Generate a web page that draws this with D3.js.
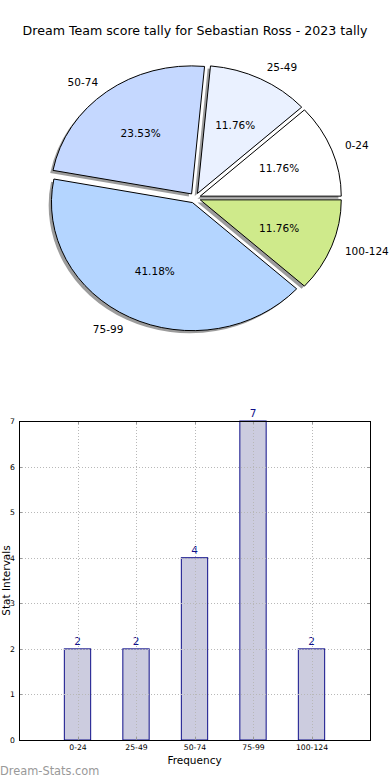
<!DOCTYPE html>
<html><head><meta charset="utf-8">
<script src="https://cdn.jsdelivr.net/npm/d3@7"></script>
<style>body{margin:0;background:#fff} text{font-family:"DejaVu Sans",sans-serif}</style>
</head><body><svg id="c" width="390" height="780"></svg>
<script>
const title = "Dream Team score tally for Sebastian Ross - 2023 tally";
const categories = ["0-24","25-49","50-74","75-99","100-124"];
const counts = [2,2,4,7,2];
const pieColors = ["#ffffff","#eaf1ff","#c5d8ff","#b4d5ff","#cfea8b"];
const yTicks = [0,1,2,3,4,5,6,7];
const xLabel = "Frequency";
const yLabel = "Stat Intervals";
const watermark = "Dream-Stats.com";

const svg = d3.select("#c");
svg.append("rect").attr("width",390).attr("height",780).attr("fill","#fff");

svg.append("text").attr("x",195).attr("y",30).attr("text-anchor","middle")
  .attr("dominant-baseline","central").attr("font-size",12.6).text(title);

// ---- Pie (elliptical, exploded, shadowed) ----
const cx = 195, cy = 198, rx = 141, ry = 128, expl = 0.04;
const total = d3.sum(counts);
const pie = d3.pie().sort(null).startAngle(Math.PI/2).endAngle(Math.PI/2 - 2*Math.PI);
const arcs = pie(counts);
const arc = d3.arc().innerRadius(0).outerRadius(1);
const gPie = svg.append("g");
function wedgeCenter(d){
  const m = (d.startAngle + d.endAngle)/2;
  return {m, x: cx + expl*rx*Math.sin(m), y: cy - expl*ry*Math.cos(m)};
}
arcs.forEach((d,i)=>{
  const c = wedgeCenter(d);
  gPie.append("path").attr("d", arc(d))
    .attr("transform",`translate(${c.x-2.8},${c.y+2.6}) scale(${rx},${ry})`)
    .attr("fill","#3a3a3a").attr("fill-opacity",0.5);
});
arcs.forEach((d,i)=>{
  const c = wedgeCenter(d);
  gPie.append("path").attr("d", arc(d))
    .attr("transform",`translate(${c.x},${c.y}) scale(${rx},${ry})`)
    .attr("fill",pieColors[i]).attr("stroke","#000").attr("stroke-width",1)
    .attr("vector-effect","non-scaling-stroke");
});
arcs.forEach((d,i)=>{
  const c = wedgeCenter(d);
  const sx = Math.sin(c.m), syy = -Math.cos(c.m);
  gPie.append("text")
    .attr("x", c.x + 1.1*rx*sx).attr("y", c.y + 1.1*ry*syy)
    .attr("text-anchor", sx > 0 ? "start" : "end")
    .attr("dominant-baseline","central").attr("font-size",10.5)
    .text(categories[i]);
  gPie.append("text")
    .attr("x", c.x + 0.6*rx*sx).attr("y", c.y + 0.6*ry*syy)
    .attr("text-anchor","middle").attr("dominant-baseline","central").attr("font-size",10.5)
    .text((counts[i]/total*100).toFixed(2)+"%");
});

// ---- Bar chart ----
const L = 19, R = 370, T = 421, B = 740;
const x = d3.scaleLinear().domain([-1, categories.length]).range([L, R]);
const y = d3.scaleLinear().domain([0, 7]).range([B, T]);
const bw = 0.45;
const gBar = svg.append("g");
gBar.selectAll("rect.bar").data(counts).join("rect").attr("class","bar")
  .attr("x",(d,i)=>x(i-bw/2)).attr("width",x(bw)-x(0))
  .attr("y",d=>y(d)).attr("height",d=>y(0)-y(d))
  .attr("fill","#ccccdf").attr("stroke","#10108a").attr("stroke-width",1);
const grid = svg.append("g").attr("stroke","#b8b8b8").attr("stroke-dasharray","1,2").attr("stroke-width",1);
categories.forEach((c,i)=>grid.append("line").attr("x1",Math.round(x(i))+0.5).attr("x2",Math.round(x(i))+0.5).attr("y1",T).attr("y2",B));
yTicks.slice(1,-1).forEach(t=>grid.append("line").attr("x1",L).attr("x2",R).attr("y1",Math.round(y(t))+0.5).attr("y2",Math.round(y(t))+0.5));
const tk = svg.append("g").attr("stroke","#999").attr("stroke-width",1);
categories.forEach((c,i)=>{const xx=Math.round(x(i))+0.5;
  tk.append("line").attr("x1",xx).attr("x2",xx).attr("y1",T).attr("y2",T+3);
  tk.append("line").attr("x1",xx).attr("x2",xx).attr("y1",B).attr("y2",B-3);});
yTicks.forEach(t=>{const yy=Math.round(y(t))+0.5;
  tk.append("line").attr("x1",L).attr("x2",L+3).attr("y1",yy).attr("y2",yy);
  tk.append("line").attr("x1",R).attr("x2",R-3).attr("y1",yy).attr("y2",yy);});
svg.append("rect").attr("x",L+0.5).attr("y",T+0.5).attr("width",R-L).attr("height",B-T)
  .attr("fill","none").attr("stroke","#000").attr("stroke-width",1);
const xAxis = d3.axisBottom(x).tickValues(d3.range(categories.length)).tickFormat(i=>categories[i]).tickSize(0).tickPadding(5);
svg.append("g").attr("transform",`translate(0,${B})`).call(xAxis)
  .call(g=>g.select(".domain").remove())
  .selectAll("text").attr("font-size",7.7).attr("font-family","DejaVu Sans").attr("fill","#000");
const yAxis = d3.axisLeft(y).tickValues(yTicks).tickFormat(d3.format("d")).tickSize(0).tickPadding(4);
svg.append("g").attr("transform",`translate(${L},0)`).call(yAxis)
  .call(g=>g.select(".domain").remove())
  .selectAll("text").attr("font-size",7.7).attr("font-family","DejaVu Sans").attr("fill","#000");
gBar.selectAll("text.val").data(counts).join("text").attr("class","val")
  .attr("x",(d,i)=>x(i)).attr("y",d=>y(d)-4)
  .attr("text-anchor","middle").attr("font-size",10.5).attr("fill","#10108a").text(d=>d);
svg.append("text").attr("x",(L+R)/2).attr("y",760).attr("text-anchor","middle")
  .attr("dominant-baseline","central").attr("font-size",10.5).text(xLabel);
svg.append("text").attr("transform",`translate(6,${(T+B)/2}) rotate(-90)`).attr("text-anchor","middle")
  .attr("dominant-baseline","central").attr("font-size",10.5).text(yLabel);
svg.append("text").attr("x",0).attr("y",771).attr("dominant-baseline","central")
  .attr("font-size",11.4).attr("fill","#999").text(watermark);
</script></body></html>
